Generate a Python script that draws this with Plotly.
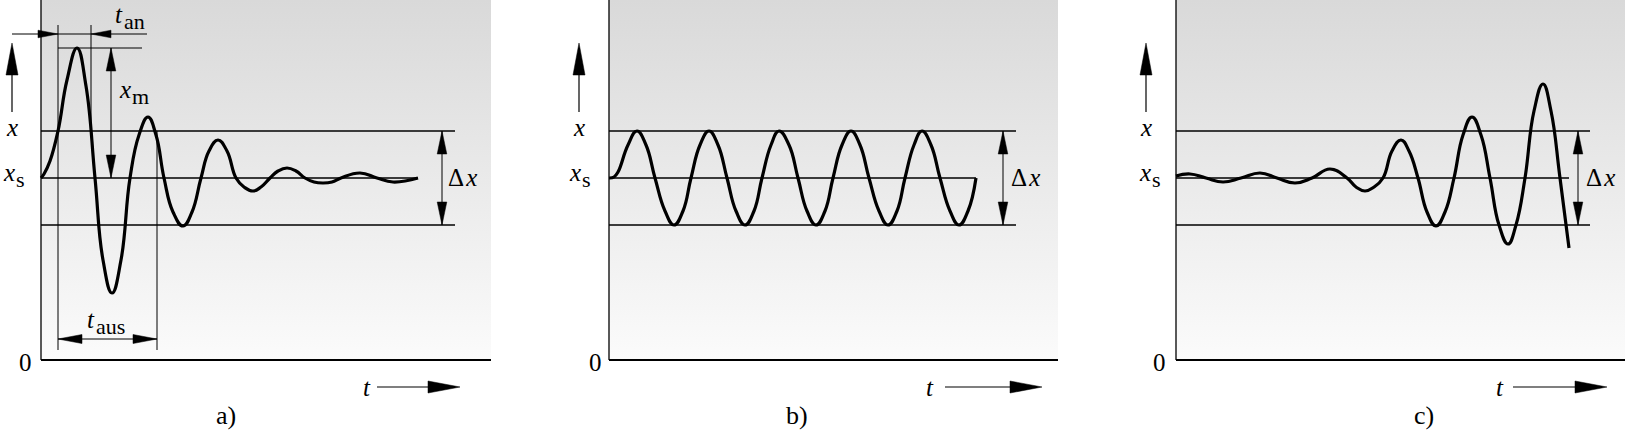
import plotly.graph_objects as go

# ---------------- data (local units: t from panel t-axis origin, x above t-axis) ----------------
x_s = 182        # steady value x_s
x_upper = 229    # upper tolerance band
x_lower = 135    # lower tolerance band
x_top = 360      # top of plot area

# a) damped oscillation
t_a = [0, 3, 9, 17, 26, 36, 45, 54, 62, 71, 80, 89, 98, 107, 115, 123, 132, 142, 151, 160,
       168, 177, 186, 195, 203, 212, 220, 229, 237, 246, 255, 264, 273, 282, 291, 300, 319, 336, 352, 377]
x_a = [182, 186, 199, 229, 280, 312, 274, 182, 100, 67, 100, 182, 225, 243, 225, 182, 148, 134, 148, 182,
       209, 220, 209, 182, 173, 169, 173, 182, 189, 192, 189, 182, 178, 177, 178, 182, 187, 182, 178, 182]

# b) sustained oscillation
t_b = [0, 5, 9, 19, 28, 37, 46, 56, 65, 74, 82, 91, 100, 109, 118, 127, 136, 145, 153, 162, 170,
       180, 189, 198, 207, 216, 224, 233, 242, 251, 260, 270, 279, 288, 296, 305, 313, 322, 331,
       341, 350, 359, 367]
x_b = [182, 183, 188, 215, 229, 215, 182, 149, 135, 149, 182, 215, 229, 215, 182, 149, 135, 149, 182, 215, 229,
       215, 182, 149, 135, 149, 182, 215, 229, 215, 182, 149, 135, 149, 182, 215, 229, 215, 182,
       149, 135, 149, 182]

# c) growing oscillation
t_c = [0, 14, 30, 47, 65, 84, 101, 119, 136, 154, 171, 180, 189, 198, 207, 216, 225, 233, 242, 251,
       260, 269, 278, 287, 296, 305, 314, 323, 332, 340, 349, 358, 367, 375, 384, 393]
x_c = [184, 186, 182, 178, 182, 187, 182, 177, 182, 191, 182, 173, 169, 173, 182, 209, 220, 209, 182, 148,
       134, 148, 182, 225, 243, 225, 182, 135, 116, 135, 182, 249, 276, 249, 182, 112]

# dimension values in panel a
t_start = 17      # first entry into band
t_an_end = 50     # end of t_an
t_aus_end = 116   # end of t_aus
x_peak = 312      # overshoot peak level
t_xm = 70         # position of x_m dimension

panel_labels = ["a)", "b)", "c)"]
curves = [(t_a, x_a), (t_b, x_b), (t_c, x_c)]

# ---------------- layout geometry ----------------
W_FIG, H_FIG = 1625, 430
Y_RANGE = [-70, 360]
slices = [(0, 545), (545, 1105), (1105, 1625)]
axis_px = [41, 609, 1176]
box_w = [450, 449, 449]
band_end = [414, 407, 414]
dx_arrow_t = [401, 394, 402]
dx_label_t = [421, 416, 424]
xarrow_t = [-29, -30, -30]
xs_split_t = [-26, -28, -25]
zero_t = [-16, -14, -17]
tlabel_t = [326, 321, 324]
tarrow = [(336, 419), (336, 433), (337, 431)]
plabel_t = [185, 188, 248]

FONT = "Liberation Serif, Times New Roman, serif"
FS = 25
FS_SUB = 22
FS_PANEL = 26

fig = go.Figure()
shapes = []
annotations = []


def head(xr, tip_t, tip_v, d, L=23, hw=4.8):
    if d == "up":
        pts = [(tip_t, tip_v), (tip_t - hw, tip_v - L), (tip_t + hw, tip_v - L)]
    elif d == "down":
        pts = [(tip_t, tip_v), (tip_t - hw, tip_v + L), (tip_t + hw, tip_v + L)]
    elif d == "right":
        pts = [(tip_t, tip_v), (tip_t - L, tip_v - hw), (tip_t - L, tip_v + hw)]
    else:
        pts = [(tip_t, tip_v), (tip_t + L, tip_v - hw), (tip_t + L, tip_v + hw)]
    path = "M {},{} L {},{} L {},{} Z".format(*[c for p in pts for c in p])
    shapes.append(dict(type="path", xref=xr, yref="y", path=path,
                       fillcolor="black", line=dict(color="black", width=0.5), layer="above"))


def line(xr, t0, v0, t1, v1, w=1.0):
    shapes.append(dict(type="line", xref=xr, yref="y", x0=t0, y0=v0, x1=t1, y1=v1,
                       line=dict(color="black", width=w), layer="above"))


def text(xr, t, v, s, xanchor="center", size=FS):
    annotations.append(dict(xref=xr, yref="y", x=t, y=v, text=s, showarrow=False,
                            xanchor=xanchor, yanchor="middle", borderpad=0,
                            font=dict(family=FONT, size=size, color="black")))


def text_sub(xr, t, v, main, sub, dv=7):
    # main letter ends at t, subscript starts at t, shifted down by dv
    text(xr, t + 1, v, main, xanchor="right")
    text(xr, t, v - dv, sub, xanchor="left", size=FS_SUB)


for i in range(3):
    xr = "x" if i == 0 else f"x{i + 1}"
    ax_name = "xaxis" if i == 0 else f"xaxis{i + 1}"
    s0, s1 = slices[i]
    a = axis_px[i]
    fig.update_layout(**{ax_name: dict(domain=[s0 / W_FIG, s1 / W_FIG], range=[s0 - a, s1 - a],
                                        visible=False, fixedrange=True, anchor="y")})
    # gradient background box
    W = box_w[i]
    fig.add_trace(go.Scatter(x=[0, W, W, 0, 0], y=[0, 0, x_top, x_top, 0], xaxis=xr, yaxis="y",
                             mode="lines", fill="toself", line=dict(width=0),
                             fillgradient=dict(type="vertical",
                                               colorscale=[[0, "#fbfbfb"], [1, "#d9d9d9"]]),
                             hoverinfo="skip", showlegend=False))
    # box borders
    line(xr, 0, 0, 0, x_top, 1.3)
    line(xr, 0, 0, W, 0, 2.0)
    # tolerance band lines
    t_curve, x_curve = curves[i]
    line(xr, 0, x_upper, band_end[i], x_upper, 1.4)
    line(xr, 0, x_lower, band_end[i], x_lower, 1.4)
    line(xr, 0, x_s, t_curve[-1], x_s, 1.4)
    # curve
    fig.add_trace(go.Scatter(x=t_curve, y=x_curve, xaxis=xr, yaxis="y", mode="lines",
                             line=dict(color="black", width=3.2, shape="spline", smoothing=1.3),
                             hoverinfo="skip", showlegend=False))
    # delta x dimension
    line(xr, dx_arrow_t[i], x_lower, dx_arrow_t[i], x_upper, 1.0)
    head(xr, dx_arrow_t[i], x_upper, "up")
    head(xr, dx_arrow_t[i], x_lower, "down")
    text(xr, dx_label_t[i], x_s + 1, "Δ\u200a<i>x</i>")
    # y-axis label arrow
    line(xr, xarrow_t[i], 248, xarrow_t[i], 300, 1.2)
    head(xr, xarrow_t[i], 317, "up", L=32, hw=6)
    text(xr, xarrow_t[i], 233, "<i>x</i>")
    text_sub(xr, xs_split_t[i], x_s + 6, "<i>x</i>", "s")
    text(xr, zero_t[i], -2, "0")
    # t-axis label arrow
    ta0, ta1 = tarrow[i]
    line(xr, ta0, -27, ta1 - 20, -27, 1.2)
    head(xr, ta1, -27, "right", L=32, hw=6)
    text(xr, tlabel_t[i], -27, "<i>t</i>")
    # panel label
    text(xr, plabel_t[i], -55, panel_labels[i], size=FS_PANEL)

# ---- dimensions in panel a ----
xr = "x"
line(xr, t_start, 10, t_start, 335, 1.0)
line(xr, t_an_end, x_upper, t_an_end, 335, 1.0)
line(xr, t_aus_end, 10, t_aus_end, x_upper, 1.0)
# t_an dimension line with outside arrows
line(xr, -29, 326, 106, 326, 1.0)
head(xr, t_start, 326, "right", L=20, hw=3.8)
head(xr, t_an_end, 326, "left", L=20, hw=3.8)
text_sub(xr, 82, 346, "<i>t</i>", "an")
# peak level line and x_m dimension
line(xr, t_start, x_peak, 101, x_peak, 1.0)
line(xr, t_xm, x_s, t_xm, x_peak, 1.0)
head(xr, t_xm, x_peak, "up")
head(xr, t_xm, x_s, "down")
text_sub(xr, 90, 271, "<i>x</i>", "m")
# t_aus dimension
line(xr, t_start, 21, t_aus_end, 21, 1.0)
head(xr, t_start, 21, "left", L=24, hw=4.5)
head(xr, t_aus_end, 21, "right", L=24, hw=4.5)
text_sub(xr, 54, 41, "<i>t</i>", "aus")

fig.update_layout(
    width=W_FIG, height=H_FIG,
    margin=dict(l=0, r=0, t=0, b=0),
    paper_bgcolor="white", plot_bgcolor="white",
    font=dict(family=FONT, size=FS, color="black"),
    yaxis=dict(domain=[0, 1], range=Y_RANGE, visible=False, fixedrange=True),
    shapes=shapes, annotations=annotations,
    showlegend=False,
)

fig.write_html("out.html", config={"displayModeBar": False},
               post_script="document.body.style.margin='0';document.body.style.overflow='hidden';")
